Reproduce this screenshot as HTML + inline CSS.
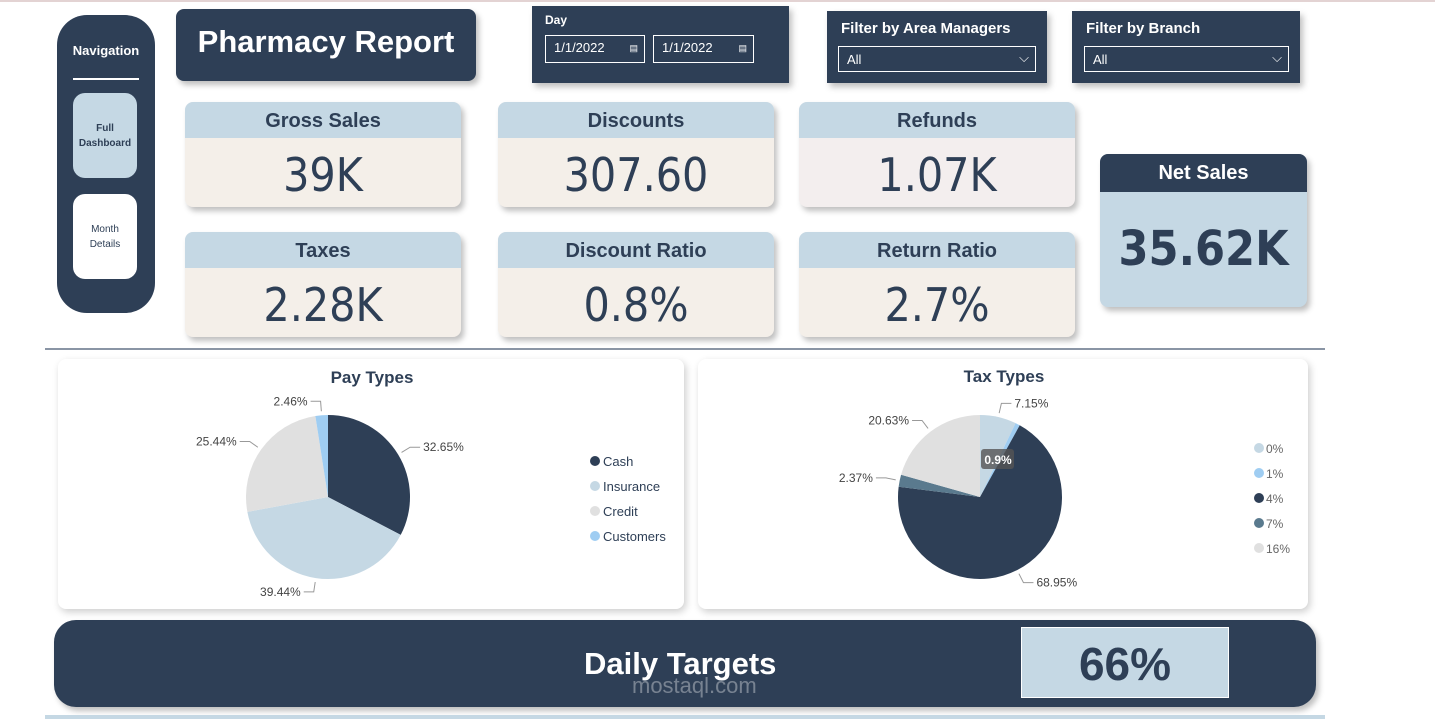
<!DOCTYPE html>
<html><head><meta charset="utf-8"><style>
body{margin:0;width:1435px;height:719px;background:#fff;position:relative;overflow:hidden;font-family:"Liberation Sans",sans-serif;color:#2e3f56}
.a{position:absolute;box-sizing:border-box}
.dk{background:#2e3f56;color:#fff}
.card{border-radius:8px;box-shadow:3px 4px 6px rgba(0,0,0,.25);overflow:hidden;background:#f4efe9}
.card .h{height:36px;background:#c5d8e4;font-weight:bold;font-size:20px;text-align:center;line-height:38px}
.card .v{font-size:46px;text-align:center;line-height:74px;font-family:"DejaVu Sans Condensed","Liberation Sans",sans-serif}
.inp{border:1px solid #fff;font-size:13px;line-height:24px;padding-left:8px;color:#fff}
.panel{background:#fff;border-radius:8px;box-shadow:2px 3px 8px rgba(0,0,0,.2)}
</style></head><body>
<div class="a" style="left:0;top:0;width:1435px;height:2px;background:#e3d3d3"></div>
<div class="a dk" style="left:57px;top:15px;width:98px;height:298px;border-radius:30px">
 <div class="a" style="left:0;top:28px;width:98px;text-align:center;font-weight:bold;font-size:13px">Navigation</div>
 <div class="a" style="left:16px;top:63px;width:66px;height:2px;background:#fff"></div>
 <div class="a" style="left:16px;top:78px;width:64px;height:85px;border-radius:12px;background:#c5d8e4;color:#2e3f56;font-size:10px;font-weight:bold;text-align:center;padding-top:28px;line-height:15px">Full<br>Dashboard</div>
 <div class="a" style="left:16px;top:179px;width:64px;height:85px;border-radius:12px;background:#fff;color:#2e3f56;font-size:10px;text-align:center;padding-top:28px;line-height:15px">Month<br>Details</div>
</div>
<div class="a dk" style="left:176px;top:9px;width:300px;height:72px;border-radius:8px;box-shadow:3px 4px 6px rgba(0,0,0,.25);font-size:31px;font-weight:bold;text-align:center;line-height:66px">Pharmacy Report</div>
<div class="a dk" style="left:532px;top:6px;width:257px;height:77px;box-shadow:3px 4px 6px rgba(0,0,0,.25)">
 <div class="a" style="left:13px;top:7px;font-size:12px;font-weight:bold">Day</div>
 <div class="a inp" style="left:13px;top:29px;width:100px;height:28px">1/1/2022<span style="position:absolute;right:6px;font-size:9px">▤</span></div>
 <div class="a inp" style="left:121px;top:29px;width:101px;height:28px">1/1/2022<span style="position:absolute;right:6px;font-size:9px">▤</span></div>
</div>
<div class="a dk" style="left:827px;top:11px;width:220px;height:72px;box-shadow:3px 4px 6px rgba(0,0,0,.25)">
 <div class="a" style="left:14px;top:9px;font-size:15px;font-weight:bold">Filter by Area Managers</div>
 <div class="a inp" style="left:11px;top:35px;width:198px;height:26px;line-height:26px">All<span style="position:absolute;right:6px;top:-2px">⌵</span></div>
</div>
<div class="a dk" style="left:1072px;top:11px;width:228px;height:72px;box-shadow:3px 4px 6px rgba(0,0,0,.25)">
 <div class="a" style="left:14px;top:9px;font-size:15px;font-weight:bold">Filter by Branch</div>
 <div class="a inp" style="left:12px;top:35px;width:205px;height:26px;line-height:26px">All<span style="position:absolute;right:6px;top:-2px">⌵</span></div>
</div>
<div class="a card" style="left:185px;top:102px;width:276px;height:105px"><div class="h">Gross Sales</div><div class="v">39K</div></div>
<div class="a card" style="left:498px;top:102px;width:276px;height:105px"><div class="h">Discounts</div><div class="v">307.60</div></div>
<div class="a card" style="left:799px;top:102px;width:276px;height:105px;background:#f3eeee"><div class="h">Refunds</div><div class="v">1.07K</div></div>
<div class="a card" style="left:185px;top:232px;width:276px;height:105px"><div class="h">Taxes</div><div class="v">2.28K</div></div>
<div class="a card" style="left:498px;top:232px;width:276px;height:105px"><div class="h">Discount Ratio</div><div class="v">0.8%</div></div>
<div class="a card" style="left:799px;top:232px;width:276px;height:105px"><div class="h">Return Ratio</div><div class="v">2.7%</div></div>
<div class="a card" style="left:1100px;top:154px;width:207px;height:153px;background:#c5d8e4"><div class="h" style="background:#2e3f56;color:#fff;height:38px">Net Sales</div><div class="v" style="line-height:126px;font-weight:bold;font-size:48px;margin-top:-6px">35.62K</div></div>
<div class="a" style="left:45px;top:348px;width:1280px;height:2px;background:#8a95a5"></div>
<div class="a panel" style="left:58px;top:359px;width:626px;height:250px"></div>
<div class="a panel" style="left:698px;top:359px;width:610px;height:250px"></div>
<svg class="a" style="left:0;top:0" width="1435" height="719" id="ch">
<text x="372" y="383" text-anchor="middle" font-weight="bold" font-size="17" fill="#2e3f56">Pay Types</text>
<text x="1004" y="382" text-anchor="middle" font-weight="bold" font-size="17" fill="#2e3f56">Tax Types</text>
</svg>
<div class="a dk" style="left:54px;top:620px;width:1262px;height:87px;border-radius:22px;box-shadow:3px 4px 6px rgba(0,0,0,.25)">
 <div class="a" style="left:530px;top:26px;font-size:31px;font-weight:bold">Daily Targets</div>
 <div class="a" style="left:578px;top:53px;font-size:22px;color:rgba(255,255,255,.35)">mostaql.com</div>
 <div class="a" style="left:967px;top:7px;width:208px;height:71px;background:#c5d8e4;color:#2e3f56;font-size:46px;font-weight:bold;text-align:center;line-height:72px;border:1px solid #fff">66%</div>
</div>
<div class="a" style="left:45px;top:715px;width:1280px;height:4px;background:#c5d8e4"></div>
<script>
const payCats=["Cash","Insurance","Credit","Customers"];
const payVals=[32.65,39.44,25.44,2.46];
const payColors=["#2e3f56","#c5d8e4","#e0e0e0","#9fcdf2"];
const taxCats=["0%","1%","4%","7%","16%"];
const taxVals=[7.15,0.9,68.95,2.37,20.63];
const taxColors=["#c5d8e4","#9fcdf2","#2e3f56","#5a7a8e","#e0e0e0"];
const svg=document.getElementById('ch');const NS="http://www.w3.org/2000/svg";
function mk(t,a){const e=document.createElementNS(NS,t);for(const k in a)e.setAttribute(k,a[k]);svg.appendChild(e);return e;}
function pie(cx,cy,r,vals,cols,cats,nm,labelSkip){
 const tot=vals.reduce((a,b)=>a+b,0);let a0=0;
 vals.forEach((v,i)=>{const a1=a0+v/tot*2*Math.PI;
  const p=(a)=>[cx+r*Math.sin(a),cy-r*Math.cos(a)];
  const [x0,y0]=p(a0),[x1,y1]=p(a1);
  const s=mk('path',{d:`M${cx},${cy}L${x0},${y0}A${r},${r} 0 ${a1-a0>Math.PI?1:0} 1 ${x1},${y1}Z`,fill:cols[i]});
  
  
  const m=(a0+a1)/2;
  if(!labelSkip.includes(i)){
   const sx=cx+(r+4)*Math.sin(m),sy=cy-(r+4)*Math.cos(m),ex=cx+(r+14)*Math.sin(m),ey=cy-(r+14)*Math.cos(m);
   const right=Math.sin(m)>=0;const hx=ex+(right?10:-10);
   mk('polyline',{points:`${sx},${sy} ${ex},${ey} ${hx},${ey}`,fill:'none',stroke:'#999','stroke-width':1});
   const t=mk('text',{x:hx+(right?3:-3),y:ey+4,'text-anchor':right?'start':'end','font-size':12,fill:'#444'});
   t.textContent=v.toFixed(2)+'%';
   
   
  }
  a0=a1;});
}
pie(328,497,82,payVals,payColors,payCats,'pay',[]);
pie(980,497,82,taxVals,taxColors,taxCats,'tax',[1]);
const tb=mk('rect',{x:981,y:449,width:33,height:20,rx:3,fill:'#555',opacity:.8});
const tt=mk('text',{x:998,y:464,'text-anchor':'middle','font-size':12,'font-weight':'bold',fill:'#fff'});tt.textContent=taxVals[1]+'%';


payCats.forEach((c,i)=>{const y=461+i*25;mk('circle',{cx:595,cy:y,r:5,fill:payColors[i]});
 const t=mk('text',{x:603,y:y+5,'font-size':13,fill:'#2e3f56'});t.textContent=c;
 
 });
taxCats.forEach((c,i)=>{const y=448+i*25;mk('circle',{cx:1259,cy:y,r:5,fill:taxColors[i]});
 const t=mk('text',{x:1266,y:y+5,'font-size':12,fill:'#666'});t.textContent=c;
 
 });
</script>
</body></html>
